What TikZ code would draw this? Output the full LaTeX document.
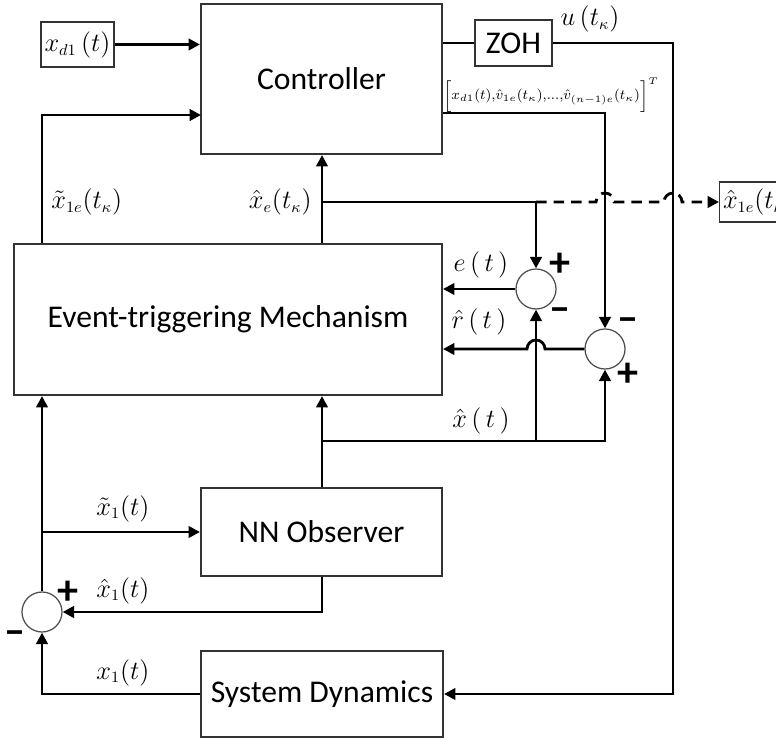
\RequirePackage{fix-cm}
\documentclass[tikz,border=0pt]{standalone}
\usepackage[no-math]{fontspec}
\setmainfont{Carlito}
\usetikzlibrary{arrows.meta}
\DeclareMathSizes{15}{15}{9}{7}
\DeclareMathSizes{8}{8}{5.5}{4.5}

\begin{document}
\begin{tikzpicture}[x=0.02cm,y=-0.02cm]
      \tikzset{
        block/.style={draw=black!80,line width=1.2pt,inner sep=0pt,font=\fontsize{18}{21}\selectfont},
        sum/.style={circle,draw=black!70,line width=0.7pt,minimum size=0.8cm,inner sep=0pt},
        lbl/.style={inner sep=0pt,font=\fontsize{15}{17}\selectfont},
        sgn/.style={inner sep=0pt,font=\fontsize{24}{24}\selectfont\bfseries},
        arr/.style={-{Triangle[length=6.5pt,width=6.5pt]}},
        every path/.style={line width=1.6pt}
      }
      \useasboundingbox (0,0) rectangle (776,742);

      \node[block,minimum width=4.82cm,minimum height=3cm] (ctrl) at (321.5,79) {Controller};
      \node[block,minimum width=8.56cm,minimum height=3.02cm] (etm) at (228,319.5) {Event-triggering Mechanism};
      \node[block,minimum width=4.82cm,minimum height=1.76cm] (obs) at (321.5,532) {NN Observer};
      \node[block,minimum width=4.84cm,minimum height=1.72cm] (sys) at (322,694) {System Dynamics};
      \node[block,minimum width=1.54cm,minimum height=0.92cm] (zoh) at (513.5,43) {ZOH};
      \node[lbl,draw=black!80,line width=0.6pt,minimum width=1.46cm,minimum height=0.9cm] (xd) at (77.5,44.5) {$x_{d1}\,(t)$};
      \node[lbl,draw=black!80,line width=0.6pt,minimum height=0.8cm,inner xsep=2pt,anchor=west] (out) at (719,202) {$\hat{x}_{1e}(t_\kappa)$};

      \node[sum] (j1) at (536,289) {};
      \node[sum] (j2) at (605,349) {};
      \node[sum] (j3) at (42,612) {};

      \coordinate (ucorner) at (673,43);
      \coordinate (vcorner) at (605,113);
      \coordinate (cin) at (201,115);
      \coordinate (xeb) at (322,202);
      \coordinate (xec) at (536,202);
      \coordinate (xhl) at (322,441);

      \draw[arr] (xd.east) -- (xd.east -| ctrl.west);
      \draw[arr] (etm.north -| j3) |- (cin);
      \draw (zoh.west -| ctrl.east) -- (zoh.west);
      \draw[arr] (zoh.east) -- (ucorner) |- (sys.east);
      \draw[arr] (vcorner -| ctrl.east) -- (vcorner) -- (j2.north);
      \draw[arr] (etm.north -| xeb) -- (ctrl.south -| xeb);
      \draw[arr] (xeb) -- (xec) -- (j1.north);
      \draw[arr,dashed,dash pattern=on 6pt off 4pt] (xec) -- ([xshift=-0.18cm]vcorner |- xec)
            arc[start angle=180,end angle=0,radius=0.18cm] -- ([xshift=-0.18cm]ucorner |- xec)
            arc[start angle=180,end angle=0,radius=0.18cm] -- (out.west);
      \draw[arr] (j1.west) -- (j1.west -| etm.east);
      \draw[arr] (j2.west) -- ([xshift=0.18cm]j1 |- j2)
            arc[start angle=0,end angle=180,radius=0.18cm] -- (j2.west -| etm.east);
      \draw[arr] (obs.north -| xhl) -- (etm.south -| xhl);
      \draw[arr] (xhl) -| (j2.south);
      \draw[arr] (j1 |- xhl) -- (j1.south);
      \draw[arr] (j3.north) -- (j3 |- etm.south);
      \draw[arr] (j3 |- obs.west) -- (obs.west);
      \draw[arr] (obs.south -| xhl) |- (j3.east);
      \draw[arr] (sys.west) -| (j3.south);

      \node[lbl,anchor=south] (lu) at (590,34) {$u\,(t_\kappa)$};
      \node[lbl,font=\fontsize{8}{10}\selectfont] (lv) at (551,95) {$\Big[x_{d1}(t){,}\hat{v}_{1e}(t_\kappa){,}{.}{.}{.}{,}\hat{v}_{(n-1)e}(t_\kappa)\Big]^T$};
      \node[lbl,anchor=west] (ltx) at (50,202) {$\tilde{x}_{1e}(t_\kappa)$};
      \node[lbl,anchor=east] (lhx) at (313,202) {$\hat{x}_e(t_\kappa)$};
      \node[lbl,anchor=south] (le) at (481,279) {$e\,(\,t\,)$};
      \node[lbl,anchor=south] (lr) at (479,336) {$\hat{r}\,(\,t\,)$};
      \node[lbl,anchor=south] (lxh) at (481,435) {$\hat{x}\,(\,t\,)$};
      \node[lbl,anchor=south] (lx1t) at (123,523) {$\tilde{x}_1(t)$};
      \node[lbl,anchor=south] (lx1h) at (123,605) {$\hat{x}_1(t)$};
      \node[lbl,anchor=south] (lx1) at (123,687) {$x_1(t)$};

      \node[sgn] (s1p) at (560,265) {+};
      \node[sgn] (s1m) at (560,315) {–};
      \node[sgn] (s2m) at (628,325) {–};
      \node[sgn] (s2p) at (628,375) {+};
      \node[sgn] (s3p) at (68,593) {+};
      \node[sgn] (s3m) at (15,638) {–};
\end{tikzpicture}
\end{document}
